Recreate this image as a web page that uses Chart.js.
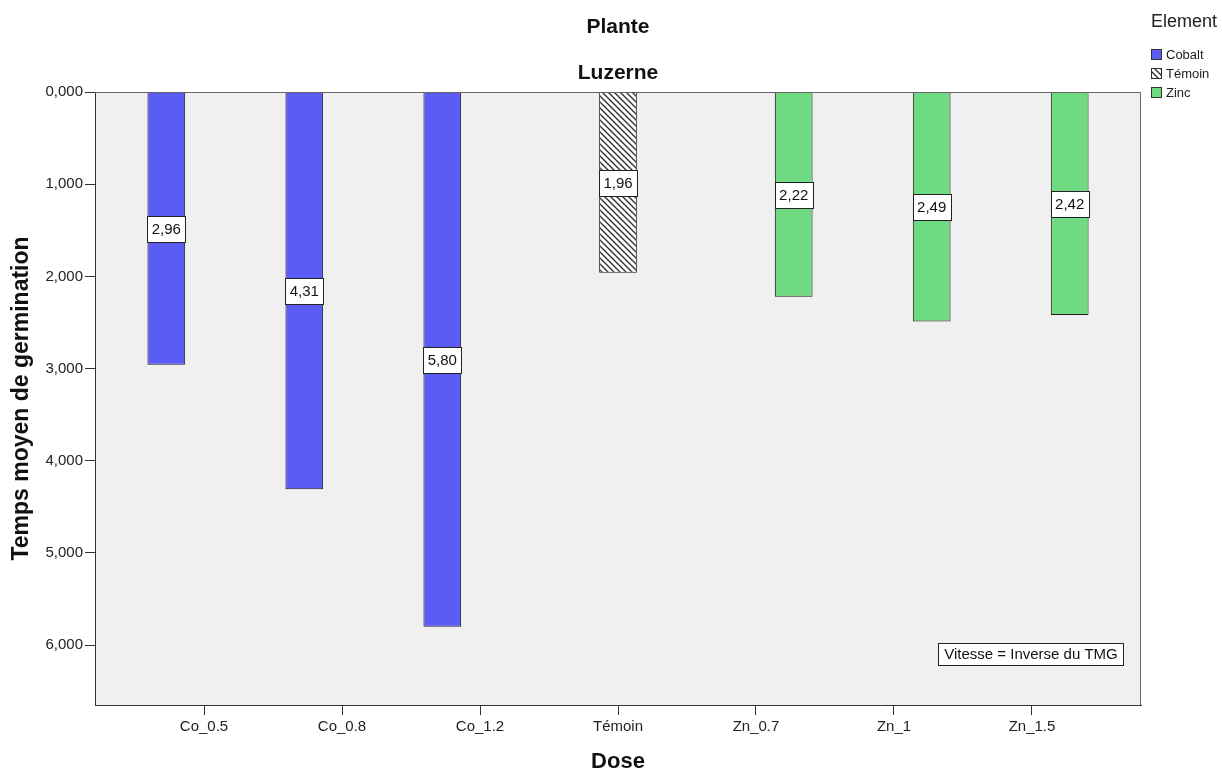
<!DOCTYPE html>
<html lang="fr">
<head>
<meta charset="utf-8">
<title>Temps moyen de germination - Luzerne</title>
<script src="https://cdn.jsdelivr.net/npm/chart.js@4.4.1/dist/chart.umd.min.js"></script>
<style>
    html, body { margin: 0; padding: 0; background: #fff; }
    #zone { width: 1222px; height: 772px; }
</style>
</head>
<body>
<div id="zone"><canvas id="tmgChart" width="1222" height="772"></canvas></div>
<script>
// doses (axe X)
const doses = ['Co_0.5', 'Co_0.8', 'Co_1.2', 'Témoin', 'Zn_0.7', 'Zn_1', 'Zn_1.5'];
// temps moyen de germination par élément (null = pas de barre)
const cobalt = [2.96, 4.31, 5.80, null, null, null, null];
const temoin = [null, null, null, 1.96, null, null, null];
const zinc = [null, null, null, null, 2.22, 2.49, 2.42];
// graduations de l'axe Y
const yTicks = [0, 1, 2, 3, 4, 5, 6];

const police = '"Liberation Sans", Arial, sans-serif';
const virgule = (v, n) => v.toFixed(n).replace('.', ',');

// motif hachuré pour le témoin
function hachures() {
    const c = document.createElement('canvas');
    c.width = 6; c.height = 6;
    const g = c.getContext('2d');
    g.fillStyle = '#ffffff';
    g.fillRect(0, 0, 6, 6);
    g.strokeStyle = '#333333';
    g.lineWidth = 1.4;
    g.beginPath();
    g.moveTo(-1, -1); g.lineTo(7, 7);
    g.moveTo(-1, 5); g.lineTo(1, 7);
    g.moveTo(5, -1); g.lineTo(7, 1);
    g.stroke();
    return g.createPattern(c, 'repeat');
}
const motifTemoin = hachures();

// fond gris de la zone de tracé + cadre
const fondPlot = {
    id: 'fondPlot',
    beforeDraw(chart) {
        const { ctx, chartArea: a } = chart;
        ctx.save();
        ctx.fillStyle = '#f0f0f0';
        ctx.fillRect(a.left, a.top, a.right - a.left, a.bottom - a.top);
        ctx.restore();
    },
    afterDraw(chart) {
        const { ctx, chartArea: a } = chart;
        ctx.save();
        ctx.strokeStyle = '#666';
        ctx.lineWidth = 1;
        ctx.beginPath();
        ctx.moveTo(a.left, a.top + 0.5); ctx.lineTo(a.right - 0.5, a.top + 0.5);
        ctx.lineTo(a.right - 0.5, a.bottom);
        ctx.stroke();
        ctx.restore();
    }
};

// étiquettes des valeurs au milieu des barres
const etiquettes = {
    id: 'etiquettes',
    afterDatasetsDraw(chart) {
        const ctx = chart.ctx;
        ctx.save();
        ctx.font = '15px ' + police;
        ctx.textAlign = 'center';
        ctx.textBaseline = 'middle';
        chart.data.datasets.forEach((ds, i) => {
            chart.getDatasetMeta(i).data.forEach((bar, j) => {
                const v = ds.data[j];
                if (v == null) return;
                const p = bar.getProps(['x', 'y', 'base', 'width'], true);
                const cy = (p.y + p.base) / 2;
                const h = 26;
                const x0 = Math.round(p.x - p.width / 2) + 0.5;
                const y0 = Math.round(cy - h / 2) + 0.5;
                ctx.fillStyle = '#fff';
                ctx.fillRect(x0, y0, Math.round(p.width), h);
                ctx.strokeStyle = '#222';
                ctx.lineWidth = 1;
                ctx.strokeRect(x0, y0, Math.round(p.width), h);
                ctx.fillStyle = '#111';
                ctx.fillText(virgule(v, 2), p.x, cy + 1);
            });
        });
        ctx.restore();
    }
};

// titres, légende et note
const textes = {
    id: 'textes',
    afterDraw(chart) {
        const { ctx, chartArea: a } = chart;
        const cx = (a.left + a.right) / 2;
        ctx.save();
        ctx.fillStyle = '#111';
        ctx.textAlign = 'center';
        ctx.textBaseline = 'middle';
        ctx.font = 'bold 21px ' + police;
        ctx.fillText('Plante', cx, 27);
        ctx.fillText('Luzerne', cx, 73);

        // légende
        ctx.textAlign = 'left';
        ctx.font = '18px ' + police;
        ctx.fillStyle = '#222';
        ctx.fillText('Element', 1151, 22);
        ctx.font = '13px ' + police;
        chart.data.datasets.forEach((ds, i) => {
            const y = 49 + i * 19;
            ctx.fillStyle = ds.backgroundColor;
            ctx.fillRect(1151, y, 11, 11);
            ctx.strokeStyle = '#333';
            ctx.lineWidth = 1;
            ctx.strokeRect(1151.5, y + 0.5, 10, 10);
            ctx.fillStyle = '#222';
            ctx.fillText(ds.label, 1166, y + 6);
        });

        // note en bas à droite
        const bx = a.right - 203, by = a.bottom - 62;
        ctx.fillStyle = '#fff';
        ctx.fillRect(bx, by, 185, 22);
        ctx.strokeStyle = '#222';
        ctx.strokeRect(bx + 0.5, by + 0.5, 185, 22);
        ctx.fillStyle = '#111';
        ctx.font = '15px ' + police;
        ctx.textAlign = 'center';
        ctx.fillText('Vitesse = Inverse du TMG', bx + 93, by + 12, 181);
        ctx.restore();
    }
};

const ctx = document.getElementById('tmgChart').getContext('2d');
const tmgChart = new Chart(ctx, {
    type: 'bar',
    data: {
        labels: doses,
        datasets: [
            { label: 'Cobalt', data: cobalt, backgroundColor: '#5b5bf6', borderColor: '#1e1e1e', borderWidth: 1 },
            { label: 'Témoin', data: temoin, backgroundColor: motifTemoin, borderColor: '#1e1e1e', borderWidth: 1 },
            { label: 'Zinc', data: zinc, backgroundColor: '#70da83', borderColor: '#1e1e1e', borderWidth: 1 }
        ]
    },
    options: {
        responsive: false,
        devicePixelRatio: 1,
        animation: false,
        categoryPercentage: 0.82,
        barPercentage: 1.0,
        layout: { padding: { top: 92, right: 81, left: 0, bottom: 0 } },
        plugins: {
            legend: { display: false },
            tooltip: { enabled: false }
        },
        scales: {
            x: {
                grid: { drawOnChartArea: false, drawTicks: true, tickLength: 10, offset: false, color: '#333' },
                border: { display: true, color: '#333', width: 1 },
                ticks: { color: '#222', font: { size: 15, family: police }, padding: 3, maxRotation: 0 },
                title: { display: true, text: 'Dose', color: '#111',
                         font: { size: 22, weight: 'bold', family: police, lineHeight: 1 },
                         padding: { top: 0, bottom: -1 } },
                // marge supplémentaire de chaque côté des catégories
                afterBuildTicks: s => { s._startValue -= 0.29; s._valueRange += 0.58; },
                afterFit: s => { s.height = 67; }
            },
            y: {
                reverse: true,
                min: 0,
                max: 6.65,
                afterBuildTicks: s => { s.ticks = yTicks.map(v => ({ value: v })); },
                ticks: { color: '#222', font: { size: 15, family: police }, padding: 2,
                         callback: v => virgule(v, 3) },
                grid: { drawOnChartArea: false, drawTicks: true, tickLength: 10, color: '#333' },
                border: { display: true, color: '#333', width: 1 },
                title: { display: true, text: 'Temps moyen de germination', color: '#111',
                         font: { size: 23, weight: 'bold', family: police, lineHeight: 1 },
                         padding: { top: 10, bottom: 0 } },
                afterFit: s => { s.width = 95; }
            }
        }
    },
    plugins: [fondPlot, etiquettes, textes]
});
</script>
</body>
</html>
